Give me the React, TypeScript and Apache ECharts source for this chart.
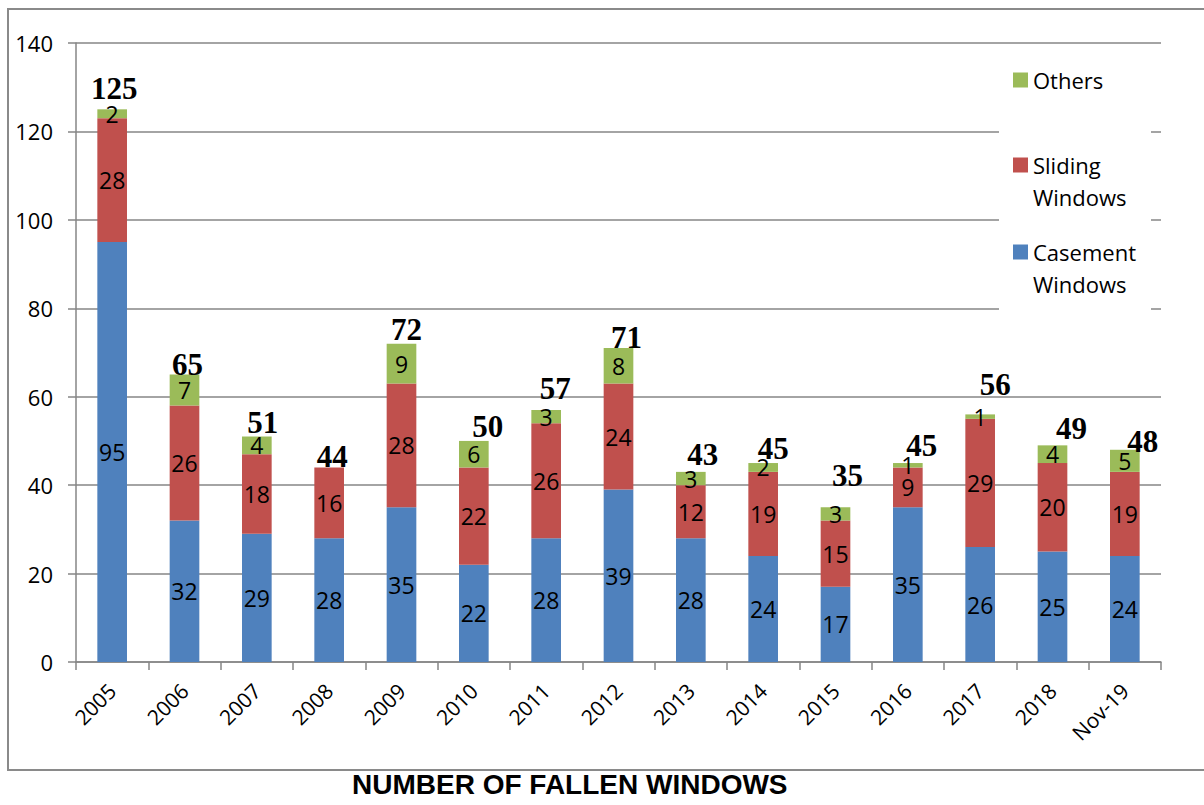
import React, { useEffect, useRef } from "react";
import * as echarts from "echarts";

const categories = ["2005", "2006", "2007", "2008", "2009", "2010", "2011", "2012", "2013", "2014", "2015", "2016", "2017", "2018", "Nov-19"];
const casement = [95, 32, 29, 28, 35, 22, 28, 39, 28, 24, 17, 35, 26, 25, 24];
const sliding = [28, 26, 18, 16, 28, 22, 26, 24, 12, 19, 15, 9, 29, 20, 19];
const others = [2, 7, 4, 0, 9, 6, 3, 8, 3, 2, 3, 1, 1, 4, 5];
const totals = [125, 65, 51, 44, 72, 50, 57, 71, 43, 45, 35, 45, 56, 49, 48];
const yMin = 0;
const yMax = 140;
const yInterval = 20;
const seriesNames = ["Casement Windows", "Sliding Windows", "Others"];
const legendLabels = ["\nCasement\nWindows", "\nSliding\nWindows", "Others"];
const title = "NUMBER OF FALLEN WINDOWS";

// label placement tweaks for the bold total labels (dx, dy from bar top)
const totalLabelOffsets = [
  [2, -21], [3, -10], [6, -14], [3, -10.5], [5, -14], [14, -14], [9, -21], [8, -11],
  [12, -17], [10, -15], [12, -32], [14, -18], [15, -29.5], [19, -17], [18, -8],
];

const COLORS = ["#4F81BD", "#C0504D", "#9BBB59"];
const GRAY = "#868686";
const SANS = "'Open Sans', 'Noto Sans', sans-serif";

export default function App() {
  const ref = useRef<HTMLDivElement>(null);

  useEffect(() => {
    if (!ref.current) return;
    const chart = echarts.init(ref.current, undefined, { renderer: "svg" });

    const segLabel = {
      show: true,
      position: "inside",
      color: "#000",
      fontFamily: SANS,
      fontSize: 23,
      formatter: (p: any) => (p.value ? String(p.value) : ""),
    };

    const stackSeries = [casement, sliding, others].map((vals, i) => ({
      name: seriesNames[i],
      type: "bar",
      stack: "total",
      barWidth: "41%",
      data: vals,
      itemStyle: { color: COLORS[i] },
      label: segLabel,
      z: 2,
    }));

    const legendTops = [204, 117, 64];
    const legends = [2, 1, 0].map((idx) => ({
      data: [seriesNames[idx]],
      orient: "vertical",
      left: 1013,
      top: legendTops[idx],
      padding: 0,
      itemWidth: 15,
      itemHeight: 15,
      icon: "rect",
      z: 10,
      selectedMode: false,
      formatter: () => legendLabels[idx],
      textStyle: {
        color: "#000",
        fontFamily: SANS,
        fontSize: 22,
        lineHeight: 32,
      },
    }));

    chart.setOption({
      animation: false,
      backgroundColor: "#fff",
      title: {
        text: title,
        left: 347,
        top: 765,
        textStyle: {
          fontFamily: "'Liberation Sans', Arial, sans-serif",
          fontWeight: "bold",
          fontSize: 28,
          color: "#000",
        },
      },
      legend: legends,
      grid: { left: 76, right: 43, top: 43, bottom: 143, containLabel: false },
      xAxis: {
        type: "category",
        data: categories,
        axisLine: { lineStyle: { color: GRAY, width: 1.5 } },
        axisTick: { show: true, length: 8, lineStyle: { color: GRAY, width: 1.5 } },
        axisLabel: {
          rotate: 45,
          margin: 25,
          interval: 0,
          color: "#000",
          fontFamily: SANS,
          fontSize: 21,
        },
      },
      yAxis: {
        type: "value",
        min: yMin,
        max: yMax,
        interval: yInterval,
        axisLine: { show: true, lineStyle: { color: GRAY, width: 1.5 } },
        axisTick: { show: true, length: 8, lineStyle: { color: GRAY, width: 1.5 } },
        axisLabel: { margin: 23, color: "#000", fontFamily: SANS, fontSize: 22 },
        splitLine: { lineStyle: { color: GRAY, width: 1.5 } },
      },
      graphic: [
        {
          type: "rect",
          z: 3,
          shape: { x: 999, y: 55, width: 152, height: 258 },
          style: { fill: "#fff" },
        },
        {
          type: "rect",
          z: 3,
          shape: { x: 8, y: 9, width: 1205, height: 761 },
          style: { fill: "none", stroke: "#8a8a8a", lineWidth: 2 },
        },
      ],
      series: [
        ...stackSeries,
        {
          name: "Total",
          type: "scatter",
          symbolSize: 0,
          z: 5,
          silent: true,
          itemStyle: { color: "#000", opacity: 1 },
          data: totals.map((v, i) => ({
            value: v,
            label: { offset: totalLabelOffsets[i] },
          })),
          label: {
            show: true,
            position: "inside",
            color: "#000",
            opacity: 1,
            textBorderWidth: 0,
            fontFamily: "'Liberation Serif', 'Times New Roman', serif",
            fontWeight: "bold",
            fontSize: 31,
            formatter: (p: any) => String(p.value),
          },
        },
      ],
    });

    return () => chart.dispose();
  }, []);

  return (
    <div
      ref={ref}
      style={{ position: "fixed", left: 0, top: 0, width: 1204, height: 805 }}
    />
  );
}
